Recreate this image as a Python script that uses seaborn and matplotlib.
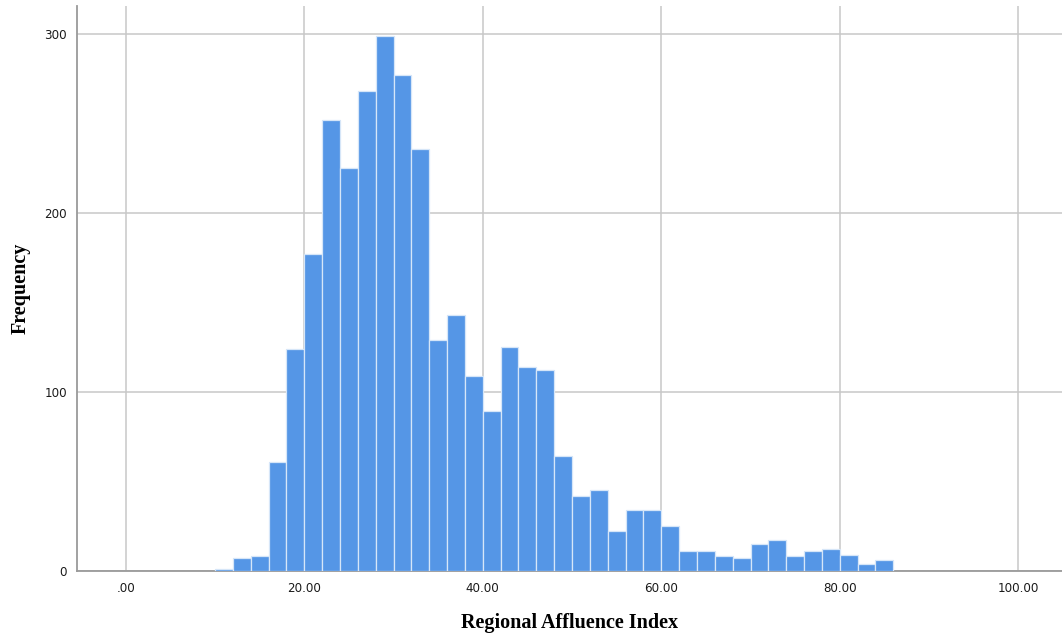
import matplotlib
matplotlib.use("Agg")
import matplotlib.pyplot as plt
import seaborn as sns
import numpy as np
from matplotlib.ticker import FuncFormatter, FixedLocator

# Histogram bins (width 2) of the Regional Affluence Index and their frequencies
bin_edges = list(range(10, 88, 2))
frequencies = [1, 7, 8, 61, 124, 177, 252, 225, 268, 299,
               277, 236, 129, 143, 109, 89, 125, 114, 112, 64,
               42, 45, 22, 34, 34, 25, 11, 11, 8, 7,
               15, 17, 8, 11, 12, 9, 4, 6]
x_ticks = [0, 20, 40, 60, 80, 100]
y_ticks = [0, 100, 200, 300]

bin_mids = [e + 1 for e in bin_edges[:-1]]

sns.set_theme(style="white")
plt.rcParams["font.family"] = ["DejaVu Sans"]

fig = plt.figure(figsize=(10.62, 6.38), dpi=100)
ax = fig.add_axes([0.0722, 0.1055, 0.9278, 0.8851])

sns.histplot(x=bin_mids, weights=frequencies, bins=bin_edges, ax=ax,
             color="#5596e6", alpha=1.0, edgecolor="#d6e6f8", linewidth=0.9,
             zorder=3)

ax.set_xlim(-5.5, 104.9)
ax.set_ylim(0, 315.7)

ax.xaxis.set_major_locator(FixedLocator(x_ticks))
ax.yaxis.set_major_locator(FixedLocator(y_ticks))

def fmt_x(v, pos):
    s = f"{v:.2f}"
    return s[1:] if s.startswith("0.") else s

ax.xaxis.set_major_formatter(FuncFormatter(fmt_x))
ax.grid(True, color="#c8c8c8", linewidth=1.1, zorder=0)
ax.set_axisbelow(True)

for side in ("top", "right"):
    ax.spines[side].set_visible(False)
for side in ("left", "bottom"):
    ax.spines[side].set_color("#9a9a9a")
    ax.spines[side].set_linewidth(1.3)

ax.tick_params(axis="both", length=0, colors="#1a1a1a")
ax.tick_params(axis="x", pad=8)
ax.tick_params(axis="y", pad=7)
for lbl in ax.get_xticklabels():
    lbl.set_fontsize(8.6)
for lbl in ax.get_yticklabels():
    lbl.set_fontsize(8.6)

serif_bold = dict(family=["Liberation Serif", "DejaVu Serif"], weight="bold",
                  size=14.5, color="black")
ax.set_xlabel("Regional Affluence Index", labelpad=13, **serif_bold)
ax.set_ylabel("Frequency", labelpad=10, **serif_bold)

fig.savefig("out.png", dpi=100)
